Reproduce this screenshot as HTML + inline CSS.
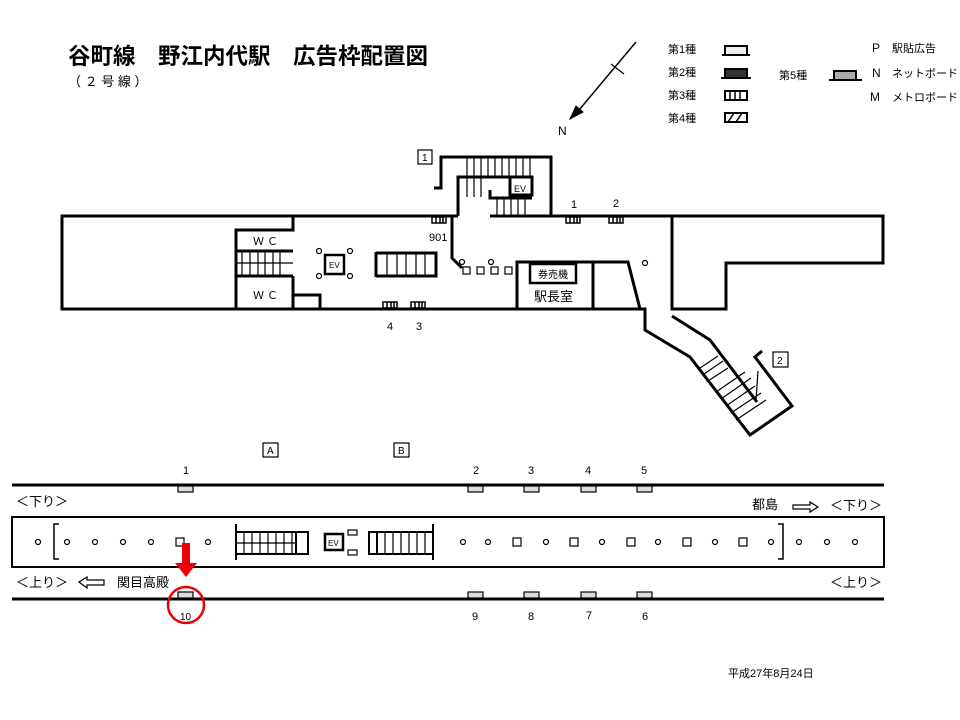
<!DOCTYPE html>
<html><head><meta charset="utf-8"><style>
body{margin:0;background:#fff}
svg{display:block;font-family:"Liberation Sans","Noto Sans CJK JP",sans-serif}
</style></head><body>
<svg width="960" height="720" viewBox="0 0 960 720" xmlns="http://www.w3.org/2000/svg">
<g fill="#000">
<text x="68" y="64" font-size="22.5" font-weight="bold">谷町線　野江内代駅　広告枠配置図</text>
<text x="68" y="86" font-size="13">（ ２ 号 線 ）</text>
<text x="668" y="53" font-size="11">第1種</text>
<text x="668" y="76" font-size="11">第2種</text>
<text x="668" y="99" font-size="11">第3種</text>
<text x="668" y="122" font-size="11">第4種</text>
<text x="779" y="79" font-size="11">第5種</text>
<text x="872" y="52" font-size="12">P</text><text x="892" y="52" font-size="11">駅貼広告</text>
<text x="872" y="77" font-size="12">N</text><text x="892" y="77" font-size="11">ネットボード</text>
<text x="870" y="101" font-size="12">M</text><text x="892" y="101" font-size="11">メトロボード</text>
<text x="558" y="135" font-size="12">N</text>
</g>
<g stroke="#000" fill="none">
<line x1="636" y1="42" x2="574" y2="116" stroke-width="1.5"/>
<line x1="611" y1="64" x2="624" y2="74" stroke-width="1.2"/>
<polygon points="570,119 576,106 583,112" fill="#000"/>
<path d="M722,55 h28 M725,55 v-9 h22 v9" stroke-width="2" fill="#eee"/>
<rect x="725" y="69" width="22" height="9" fill="#333" stroke-width="2"/><line x1="721" y1="78" x2="751" y2="78" stroke-width="2"/>
<rect x="725" y="91" width="22" height="9" stroke-width="2"/><path d="M730,91v9M735,91v9M740,91v9" stroke-width="1.5"/>
<rect x="725" y="113" width="22" height="9" stroke-width="2"/><path d="M728,122l6,-9M736,122l6,-9" stroke-width="1.5"/>
<rect x="834" y="71" width="22" height="9" fill="#aaa" stroke-width="2"/><line x1="829" y1="80" x2="862" y2="80" stroke-width="2"/>

<g stroke-width="3">
<path d="M458,216 H62 V309 H645 V330 L690,357 L750,435 L792,406 L755,357 L762,351"/>
<path d="M551,216 H883 V263 H726 V309 H672 V216"/>
<path d="M672,316 L710,340 L757,402"/>
<path d="M434,188 H441 V157 H551 V216"/>
<path d="M458,216 V177 H532 V195 H510 V177"/>
<path d="M490,190 V198 H532"/>
<path d="M490,216 H551"/>
<path d="M452,216 V258 L462,268"/>
<path d="M517,309 V262 H628 L640,309 M593,262 V309"/>
<rect x="530" y="264" width="46" height="19" stroke-width="2.5"/>
<path d="M293,216 V230 H236 V309 M236,251 H293 M236,276 H293 M293,276 V309 M293,295 H320 V309"/>
<rect x="325" y="255" width="19" height="19" stroke-width="2.5"/>
<path d="M376,252 V277 M376,253 H436 V276 H376"/>
</g>
<g stroke-width="1.2">
<path d="M467,157 v40 M474,157 v40 M481,157 v40 M488,157 v20 M495,157 v20 M502,157 v20 M509,157 v20 M516,157 v20 M523,157 v20 M530,157 v20"/>
<path d="M497,198 v18 M504,198 v18 M511,198 v18 M518,198 v18 M525,198 v18"/>
<path d="M242,251 v25 M250,251 v25 M258,251 v25 M265,251 v25 M273,251 v25 M280,251 v25 M236,263 h57"/>
<path d="M387,253 v23 M397,253 v23 M406,253 v23 M416,253 v23 M425,253 v23"/>
<path d="M700,368 L718,356 M704,374 L723,361 M708,381 L728,368 M716,392 L745,372 M721,399 L751,378 M726,406 L755,386 M731,413 L761,393 M736,420 L766,400 M758,371 L756,400"/>
</g>
<g stroke-width="1.2"><circle cx="319" cy="251" r="2.5"/><circle cx="350" cy="251" r="2.5"/><circle cx="319" cy="276" r="2.5"/><circle cx="350" cy="276" r="2.5"/>
<circle cx="462" cy="262" r="2.5"/><circle cx="491" cy="262" r="2.5"/><circle cx="645" cy="263" r="2.5"/>
<rect x="463" y="267" width="7" height="7"/><rect x="477" y="267" width="7" height="7"/><rect x="491" y="267" width="7" height="7"/><rect x="505" y="267" width="7" height="7"/></g>
<g stroke-width="1.5">
<rect x="432" y="217" width="14" height="6"/><path d="M436,217v6M440,217v6M443,217v6"/>
<rect x="566" y="217" width="14" height="6"/><path d="M570,217v6M574,217v6M577,217v6"/>
<rect x="609" y="217" width="14" height="6"/><path d="M613,217v6M617,217v6M620,217v6"/>
<rect x="383" y="302" width="14" height="6"/><path d="M387,302v6M391,302v6M394,302v6"/>
<rect x="411" y="302" width="14" height="6"/><path d="M415,302v6M419,302v6M422,302v6"/>
</g>
<g stroke-width="1.2"><rect x="418" y="150" width="14" height="14"/><rect x="773" y="352" width="15" height="15"/>
<rect x="263" y="443" width="15" height="14"/><rect x="394" y="443" width="15" height="14"/></g>

<g stroke-width="3"><line x1="12" y1="485" x2="884" y2="485"/><line x1="12" y1="599" x2="884" y2="599"/>
<rect x="12" y="517" width="872" height="50" stroke-width="2"/></g>
<g fill="#ddd" stroke-width="1.2">
<rect x="178" y="486" width="15" height="6"/><rect x="468" y="486" width="15" height="6"/><rect x="524" y="486" width="15" height="6"/><rect x="581" y="486" width="15" height="6"/><rect x="637" y="486" width="15" height="6"/>
<rect x="178" y="592" width="15" height="6"/><rect x="468" y="592" width="15" height="6"/><rect x="524" y="592" width="15" height="6"/><rect x="581" y="592" width="15" height="6"/><rect x="637" y="592" width="15" height="6"/>
</g>
<g stroke-width="1.2">
<circle cx="38" cy="542" r="2.5"/><circle cx="67" cy="542" r="2.5"/><circle cx="95" cy="542" r="2.5"/><circle cx="123" cy="542" r="2.5"/><circle cx="151" cy="542" r="2.5"/><rect x="176" y="538" width="8" height="8"/><circle cx="208" cy="542" r="2.5"/>
<circle cx="463" cy="542" r="2.5"/><circle cx="488" cy="542" r="2.5"/><rect x="513" y="538" width="8" height="8"/><circle cx="546" cy="542" r="2.5"/><rect x="570" y="538" width="8" height="8"/><circle cx="602" cy="542" r="2.5"/><rect x="627" y="538" width="8" height="8"/><circle cx="658" cy="542" r="2.5"/><rect x="683" y="538" width="8" height="8"/><circle cx="715" cy="542" r="2.5"/><rect x="739" y="538" width="8" height="8"/><circle cx="771" cy="542" r="2.5"/><circle cx="799" cy="542" r="2.5"/><circle cx="827" cy="542" r="2.5"/><circle cx="855" cy="542" r="2.5"/>
<path d="M59,524 H54 V559 H59 M778,524 H783 V559 H778" stroke-width="1.5"/>
<rect x="348" y="530" width="9" height="5"/><rect x="348" y="550" width="9" height="5"/>
</g>
<g stroke-width="2">
<path d="M236,524 V560 M236,532 H308 V554 H236 M296,532 V554"/>
<path d="M433,524 V560 M433,532 H369 V554 H433 M377,532 V554"/>
<rect x="325" y="534" width="18" height="16" stroke-width="2.5"/>
</g>
<g stroke-width="1.2">
<path d="M244,532v22M252,532v22M260,532v22M268,532v22M276,532v22M284,532v22M292,532v22M236,543h60"/>
<path d="M385,532v22M393,532v22M401,532v22M409,532v22M417,532v22M425,532v22"/>
<path d="M79,582 l8,-5 v3 h17 v5 h-17 v3 z M793,505 h17 v-3 l8,5 l-8,5 v-3 h-17 z"/>
</g>
<circle cx="186" cy="605" r="18" stroke="#e00" stroke-width="2.5"/>
</g>
<path d="M182,543 h8 v20 h7 l-11,14 l-11,-14 h7 z" fill="#e00"/>
<g fill="#000" font-size="11">
<text x="422" y="161" font-size="10">1</text><text x="777" y="364" font-size="10">2</text>
<text x="267" y="454" font-size="10">A</text><text x="398" y="454" font-size="10">B</text>
<text x="514" y="192" font-size="9">EV</text><text x="329" y="268" font-size="8">EV</text><text x="328" y="546" font-size="8">EV</text>
<text x="253" y="245" font-size="11">Ｗ Ｃ</text><text x="253" y="299" font-size="11">Ｗ Ｃ</text>
<text x="538" y="278" font-size="10">券売機</text><text x="534" y="301" font-size="13">駅長室</text>
<text x="429" y="241" font-size="11">901</text><text x="571" y="208" font-size="11">1</text><text x="613" y="207" font-size="11">2</text>
<text x="387" y="330" font-size="11">4</text><text x="416" y="330" font-size="11">3</text>
<text x="183" y="474" font-size="11">1</text><text x="473" y="474" font-size="11">2</text><text x="528" y="474" font-size="11">3</text><text x="585" y="474" font-size="11">4</text><text x="641" y="474" font-size="11">5</text>
<text x="180" y="620" font-size="10">10</text><text x="472" y="620" font-size="11">9</text><text x="528" y="620" font-size="11">8</text><text x="586" y="619" font-size="11">7</text><text x="642" y="620" font-size="11">6</text>
<text x="16" y="506" font-size="13">＜下り＞</text><text x="16" y="587" font-size="13">＜上り＞</text>
<text x="117" y="587" font-size="13">関目高殿</text>
<text x="752" y="509" font-size="13">都島</text><text x="830" y="510" font-size="13">＜下り＞</text><text x="830" y="587" font-size="13">＜上り＞</text>
<text x="728" y="677" font-size="11">平成27年8月24日</text>
</g>
</svg>
</body></html>
